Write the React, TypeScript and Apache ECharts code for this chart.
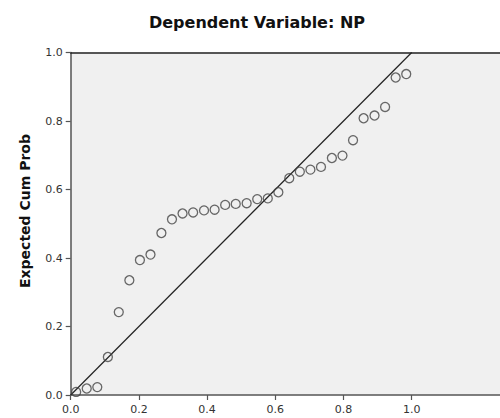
import React, { useEffect, useRef } from "react";
import * as echarts from "echarts";

const titleText = "Dependent Variable: NP";
const yAxisTitle = "Expected Cum Prob";
const tickValues = [0, 0.2, 0.4, 0.6, 0.8, 1.0];

const observedCumProb = [
  0.016, 0.047, 0.078, 0.109, 0.141, 0.172, 0.203, 0.234, 0.266, 0.297, 0.328,
  0.359, 0.391, 0.422, 0.453, 0.484, 0.516, 0.547, 0.578, 0.609, 0.641, 0.672,
  0.703, 0.734, 0.766, 0.797, 0.828, 0.859, 0.891, 0.922, 0.953, 0.984,
];
const expectedCumProb = [
  0.009, 0.019, 0.023, 0.111, 0.242, 0.335, 0.394, 0.41, 0.473, 0.513, 0.53,
  0.533, 0.539, 0.541, 0.555, 0.558, 0.56, 0.572, 0.574, 0.592, 0.633, 0.652,
  0.658, 0.666, 0.692, 0.699, 0.744, 0.808, 0.816, 0.841, 0.927, 0.937,
];
const referenceLine = [
  [0, 0],
  [1, 1],
];

export default function App() {
  const ref = useRef<HTMLDivElement>(null);
  useEffect(() => {
    if (!ref.current) return;
    const chart = echarts.init(ref.current, null, { renderer: "svg" });
    const font = "DejaVu Sans";
    const xMax = 1.259;
    chart.setOption({
      animation: false,
      textStyle: { fontFamily: font },
      grid: {
        left: 70.7,
        top: 52.5,
        right: 0,
        bottom: 23,
        show: true,
        backgroundColor: "#f0f0f0",
        borderWidth: 0,
      },
      xAxis: [
        {
          type: "value",
          min: 0,
          max: xMax,
          interval: 0.2,
          axisLine: { show: true, lineStyle: { color: "#555", width: 1.5 } },
          axisTick: {
            show: true,
            length: 5,
            customValues: tickValues,
            lineStyle: { color: "#555", width: 1.2 },
          },
          axisLabel: {
            customValues: tickValues,
            formatter: (v: number) => v.toFixed(1),
            color: "#333",
            fontSize: 11,
            margin: 9,
            fontFamily: font,
          },
          splitLine: { show: false },
        },
        {
          type: "value",
          position: "top",
          min: 0,
          max: xMax,
          axisLine: { show: true, lineStyle: { color: "#222", width: 1.5 } },
          axisTick: { show: false },
          axisLabel: { show: false },
          splitLine: { show: false },
        },
      ],
      yAxis: {
        type: "value",
        min: 0,
        max: 1,
        interval: 0.2,
        axisLine: { show: true, lineStyle: { color: "#555", width: 1.5 } },
        axisTick: { show: true, length: 5, lineStyle: { color: "#555", width: 1.2 } },
        axisLabel: {
          formatter: (v: number) => v.toFixed(1),
          color: "#333",
          fontSize: 11,
          margin: 8,
          fontFamily: font,
        },
        splitLine: { show: false },
      },
      graphic: [
        {
          type: "text",
          x: 257,
          y: 22,
          style: {
            text: titleText,
            font: `bold 16px "${font}"`,
            fill: "#111",
            textAlign: "center",
            textVerticalAlign: "middle",
          },
        },
        {
          type: "text",
          x: 25,
          y: 211,
          rotation: Math.PI / 2,
          style: {
            text: yAxisTitle,
            font: `bold 14px "${font}"`,
            fill: "#111",
            textAlign: "center",
            textVerticalAlign: "middle",
          },
        },
      ],
      series: [
        {
          type: "line",
          data: referenceLine,
          symbol: "none",
          lineStyle: { color: "#222", width: 1.2 },
          silent: true,
          z: 2,
        },
        {
          type: "scatter",
          data: observedCumProb.map((x, i) => [x, expectedCumProb[i]]),
          symbol: "circle",
          symbolSize: 9,
          itemStyle: { color: "rgba(0,0,0,0)", borderColor: "#444", borderWidth: 1.3 },
          z: 3,
        },
      ],
    });
    return () => chart.dispose();
  }, []);
  return (
    <div
      ref={ref}
      style={{ position: "absolute", left: 0, top: 0, width: 500, height: 418 }}
    />
  );
}
